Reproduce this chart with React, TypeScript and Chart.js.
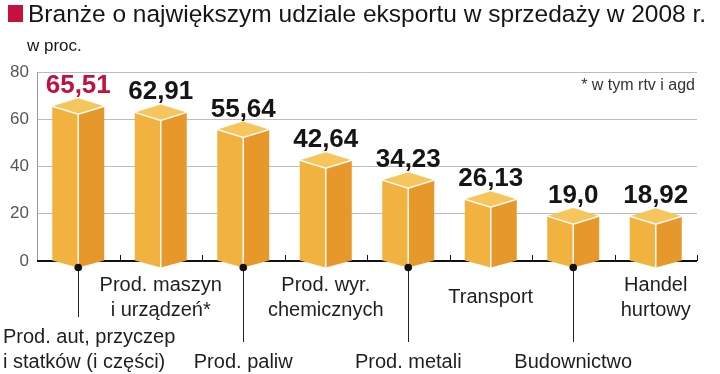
import React, { useEffect, useRef } from "react";
import { Chart, registerables } from "chart.js";

Chart.register(...registerables);

const titleText = "Branże o największym udziale eksportu w sprzedaży w 2008 r.";
const subtitleText = "w proc.";
const footnoteText = "* w tym rtv i agd";

const categories: string[][] = [
  ["Prod. aut, przyczep", "i statków (i części)"],
  ["Prod. maszyn", "i urządzeń*"],
  ["Prod. paliw"],
  ["Prod. wyr.", "chemicznych"],
  ["Prod. metali"],
  ["Transport"],
  ["Budownictwo"],
  ["Handel", "hurtowy"],
];
const values = [65.51, 62.91, 55.64, 42.64, 34.23, 26.13, 19.0, 18.92];
const valueLabels = ["65,51", "62,91", "55,64", "42,64", "34,23", "26,13", "19,0", "18,92"];
const yTicks = [0, 20, 40, 60, 80];

const FONT = "'Liberation Sans', Arial, sans-serif";

const boxPlugin = {
  id: "box3d",
  beforeDatasetsDraw(chart: any) {
    const { ctx, chartArea, scales } = chart;
    const base = scales.y.getPixelForValue(0);
    const meta = chart.getDatasetMeta(0);
    const els = meta.data;
    const step = els.length > 1 ? els[1].x - els[0].x : 80;
    ctx.save();
    ctx.strokeStyle = "#111";
    ctx.lineWidth = 2;
    ctx.beginPath();
    ctx.moveTo(chartArea.left, base);
    ctx.lineTo(chartArea.right, base);
    ctx.stroke();
    ctx.lineWidth = 1;
    for (let i = 0; i < els.length; i++) {
      const bx = Math.round(els[i].x + step / 2) + 0.5;
      ctx.beginPath();
      ctx.moveTo(bx, base - 6);
      ctx.lineTo(bx, base);
      ctx.stroke();
    }
    ctx.restore();
  },
  afterDatasetsDraw(chart: any) {
    const { ctx } = chart;
    const meta = chart.getDatasetMeta(0);
    const d = 8;
    const db = 7;
    ctx.save();
    meta.data.forEach((el: any, i: number) => {
      const x = el.x;
      const y = el.y;
      const base = el.base;
      const w = el.width;
      const L = x - w / 2;
      const R = x + w / 2;
      ctx.fillStyle = "#f2b23f";
      ctx.beginPath();
      ctx.moveTo(L, y);
      ctx.lineTo(x, y + d);
      ctx.lineTo(x, base + db);
      ctx.lineTo(L, base);
      ctx.closePath();
      ctx.fill();
      ctx.fillStyle = "#e7982a";
      ctx.beginPath();
      ctx.moveTo(x, y + d);
      ctx.lineTo(R, y);
      ctx.lineTo(R, base);
      ctx.lineTo(x, base + db);
      ctx.closePath();
      ctx.fill();
      ctx.fillStyle = "#f6c55c";
      ctx.beginPath();
      ctx.moveTo(L, y);
      ctx.lineTo(x, y - d);
      ctx.lineTo(R, y);
      ctx.lineTo(x, y + d);
      ctx.closePath();
      ctx.fill();
      ctx.strokeStyle = "rgba(255,255,255,0.95)";
      ctx.lineWidth = 1.5;
      ctx.beginPath();
      ctx.moveTo(L, y);
      ctx.lineTo(x, y + d);
      ctx.lineTo(R, y);
      ctx.moveTo(x, y + d);
      ctx.lineTo(x, base + db);
      ctx.stroke();

      ctx.fillStyle = i === 0 ? "#c0123e" : "#151515";
      ctx.font = `bold 26px ${FONT}`;
      ctx.textAlign = "center";
      ctx.textBaseline = "alphabetic";
      ctx.fillText(valueLabels[i], x, y - d - 5);

      const lines = categories[i];
      ctx.fillStyle = "#1e1e1e";
      ctx.font = `20px ${FONT}`;
      ctx.textBaseline = "middle";
      const lh = 25;
      if (i % 2 === 1) {
        const startY = lines.length === 1 ? 297 : 285;
        lines.forEach((t, k) => {
          ctx.textAlign = "center";
          ctx.fillText(t, x, startY + k * lh);
        });
      } else {
        const bottomY = 362;
        const startY = bottomY - (lines.length - 1) * lh;
        ctx.strokeStyle = "#222";
        ctx.lineWidth = 1;
        ctx.beginPath();
        ctx.moveTo(Math.round(x) + 0.5, base + db);
        ctx.lineTo(Math.round(x) + 0.5, startY - 20);
        ctx.stroke();
        ctx.fillStyle = "#111";
        ctx.beginPath();
        ctx.arc(x, base + db, 3.8, 0, Math.PI * 2);
        ctx.fill();
        ctx.fillStyle = "#1e1e1e";
        lines.forEach((t, k) => {
          if (i === 0) {
            ctx.textAlign = "left";
            ctx.fillText(t, 3, startY + k * lh);
          } else {
            ctx.textAlign = "center";
            ctx.fillText(t, x, startY + k * lh);
          }
        });
      }
    });
    ctx.restore();
  },
  afterDraw(chart: any) {
    const { ctx } = chart;
    ctx.save();
    ctx.fillStyle = "#c8103e";
    ctx.fillRect(8, 5, 15, 17);
    ctx.fillStyle = "#151515";
    ctx.font = `24.5px ${FONT}`;
    ctx.textAlign = "left";
    ctx.textBaseline = "alphabetic";
    ctx.fillText(titleText, 28, 22);
    ctx.font = `17px ${FONT}`;
    ctx.fillText(subtitleText, 27, 51);
    ctx.fillStyle = "#333";
    ctx.font = `16px ${FONT}`;
    ctx.textAlign = "right";
    ctx.fillText(footnoteText, 695, 90);
    ctx.restore();
  },
};

export default function App() {
  const ref = useRef<HTMLCanvasElement | null>(null);
  useEffect(() => {
    if (!ref.current) return;
    const chart = new Chart(ref.current, {
      type: "bar",
      data: {
        labels: categories.map((c) => c.join(" ")),
        datasets: [
          {
            data: values,
            backgroundColor: "rgba(0,0,0,0)",
            borderWidth: 0,
            categoryPercentage: 1,
            barPercentage: 0.63,
          },
        ],
      },
      options: {
        responsive: false,
        animation: false,
        devicePixelRatio: 1,
        layout: { padding: { top: 72, right: 23, left: 0, bottom: 0 } },
        plugins: { legend: { display: false }, tooltip: { enabled: false }, title: { display: false } },
        scales: {
          x: {
            grid: { display: false },
            border: { display: false },
            ticks: { display: false },
            afterFit: (s: any) => {
              s.height = 113;
            },
          },
          y: {
            min: 0,
            max: 80,
            afterBuildTicks: (s: any) => {
              s.ticks = yTicks.map((v) => ({ value: v }));
            },
            ticks: { font: { size: 17, family: FONT }, color: "#555", padding: 8 },
            grid: { color: "#bdbdbd", drawTicks: false },
            border: { color: "#9a9a9a" },
            afterFit: (s: any) => {
              s.width = 37;
            },
          },
        },
      },
      plugins: [boxPlugin],
    });
    return () => chart.destroy();
  }, []);
  return (
    <div style={{ position: "absolute", left: 0, top: 0, width: 720, height: 374, background: "#fff" }}>
      <canvas ref={ref} width={720} height={374} style={{ display: "block" }} />
    </div>
  );
}
